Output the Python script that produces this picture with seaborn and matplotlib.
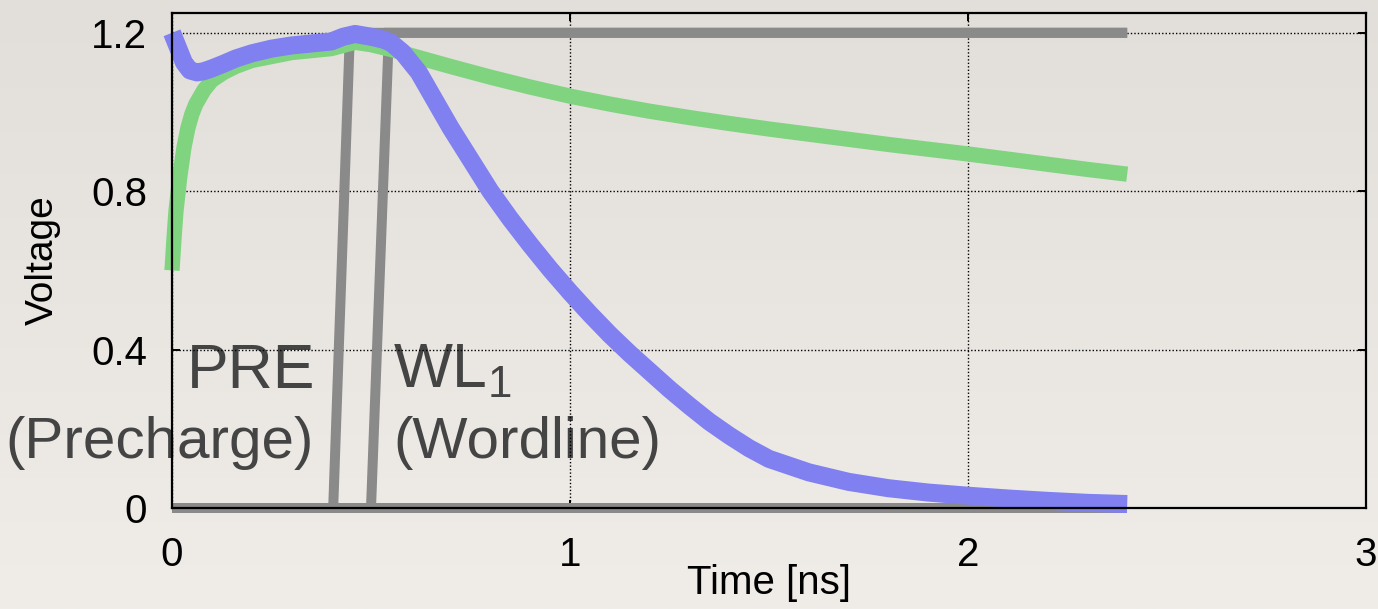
import numpy as np
import pandas as pd
import matplotlib
matplotlib.use("Agg")
import matplotlib.pyplot as plt
import seaborn as sns

# ---- data ----
t_bl = [0.0, 0.005, 0.01, 0.02, 0.03, 0.04, 0.05, 0.06, 0.08, 0.10, 0.13, 0.16, 0.20,
        0.25, 0.30, 0.35, 0.40, 0.43, 0.46, 0.50, 0.55, 0.60, 0.70, 0.80, 0.90, 1.00,
        1.10, 1.20, 1.30, 1.40, 1.50, 1.60, 1.70, 1.80, 1.90, 2.00, 2.10, 2.20, 2.30, 2.40]
v_bl = [0.60, 0.68, 0.75, 0.84, 0.91, 0.96, 0.995, 1.02, 1.055, 1.08, 1.10, 1.115, 1.13,
        1.14, 1.15, 1.155, 1.16, 1.168, 1.176, 1.17, 1.158, 1.143, 1.115, 1.088, 1.063, 1.04,
        1.02, 1.002, 0.986, 0.971, 0.957, 0.944, 0.931, 0.918, 0.906, 0.894, 0.881, 0.868,
        0.855, 0.843]

t_blb = [0.0, 0.01, 0.02, 0.03, 0.045, 0.063, 0.08, 0.10, 0.13, 0.16, 0.20, 0.25, 0.30,
         0.35, 0.40, 0.43, 0.46, 0.50, 0.53, 0.55, 0.58, 0.62, 0.66, 0.70, 0.75, 0.80,
         0.85, 0.90, 0.95, 1.00, 1.05, 1.10, 1.15, 1.20, 1.25, 1.30, 1.35, 1.40, 1.45,
         1.50, 1.60, 1.70, 1.80, 1.90, 2.00, 2.10, 2.20, 2.30, 2.40]
v_blb = [1.20, 1.175, 1.15, 1.125, 1.105, 1.10, 1.103, 1.11, 1.122, 1.135, 1.148, 1.16,
         1.168, 1.173, 1.178, 1.19, 1.197, 1.19, 1.183, 1.175, 1.15, 1.10, 1.03, 0.96,
         0.88, 0.80, 0.73, 0.665, 0.603, 0.545, 0.49, 0.438, 0.39, 0.345, 0.30, 0.258,
         0.218, 0.183, 0.151, 0.124, 0.090, 0.066, 0.050, 0.039, 0.031, 0.024, 0.018,
         0.013, 0.010]

t_pre = [0.0, 0.405, 0.447, 2.40]
v_pre = [0.0, 0.0, 1.20, 1.20]

t_wl1 = [0.0, 0.500, 0.545, 2.40]
v_wl1 = [0.0, 0.0, 1.20, 1.20]

t_wl0 = [0.0, 2.40]
v_wl0 = [0.0, 0.0]

x_ticks = [0, 1, 2, 3]
y_ticks = [0, 0.4, 0.8, 1.2]
y_ticklabels = ["0", "0.4", "0.8", "1.2"]

# ---- style ----
sns.set_theme(style="white")
plt.rcParams["font.family"] = ["Liberation Sans", "DejaVu Sans"]

BG = "#e8e5e0"
W, H = 1378, 609
fig = plt.figure(figsize=(W / 100, H / 100), dpi=100, facecolor=BG)

# subtle paper-like vertical gradient background
top_c = np.array([0xe2, 0xdf, 0xda]) / 255.0
bot_c = np.array([0xf0, 0xed, 0xe9]) / 255.0
frac = np.linspace(0, 1, H)[:, None, None]
grad = np.repeat(top_c * (1 - frac) + bot_c * frac, 8, axis=1)
bg_ax = fig.add_axes([0, 0, 1, 1], zorder=-10)
bg_ax.imshow(grad, aspect="auto", interpolation="bilinear")
bg_ax.axis("off")

ax = fig.add_axes([172 / W, 1 - 508 / H, (1366 - 172) / W, (508 - 13) / H], zorder=1)
ax.patch.set_alpha(0)

GRAY = "#8a8a8a"
for tt, vv in [(t_wl0, v_wl0), (t_pre, v_pre), (t_wl1, v_wl1)]:
    sns.lineplot(x=tt, y=vv, ax=ax, color=GRAY, linewidth=7.2, estimator=None,
                 sort=False, solid_capstyle="butt", solid_joinstyle="miter",
                 clip_on=False, zorder=2)
sns.lineplot(x=t_bl, y=v_bl, ax=ax, color="#80d480", linewidth=11, estimator=None,
             sort=False, solid_capstyle="butt", solid_joinstyle="round",
             clip_on=False, zorder=3)
sns.lineplot(x=t_blb, y=v_blb, ax=ax, color="#8080f0", linewidth=13, estimator=None,
             sort=False, solid_capstyle="butt", solid_joinstyle="round",
             clip_on=False, zorder=4)

ax.set_xlim(0, 3)
ax.set_ylim(0, 1.25)
ax.set_xticks(x_ticks)
ax.set_yticks(y_ticks)
ax.set_yticklabels(y_ticklabels)

ax.set_axisbelow(True)
ax.grid(True, color="black", linestyle=(0, (1, 1.5)), linewidth=1.0)

for s in ax.spines.values():
    s.set_visible(True)
    s.set_color("black")
    s.set_linewidth(1.6)
    s.set_zorder(5)

ax.tick_params(axis="both", which="both", direction="in", length=6, width=1.4,
               top=True, right=True, bottom=True, left=True,
               labelsize=29, colors="black", pad=18)
ax.tick_params(axis="x", pad=20)

ax.set_xlabel("Time [ns]", fontsize=29, labelpad=-7, color="black")
ax.set_ylabel("Voltage", fontsize=28, labelpad=22, color="black")

TXT = "#444444"
ax.text(0.36, 0.304, "PRE", fontsize=45, color=TXT, ha="right", va="baseline", zorder=0.4)
ax.text(0.355, 0.127, "(Precharge)", fontsize=42, color=TXT, ha="right", va="baseline", zorder=0.4)
ax.text(0.556, 0.304, r"WL$_\mathregular{1}$", fontsize=45, color=TXT, ha="left", va="baseline", zorder=0.4)
ax.text(0.556, 0.127, "(Wordline)", fontsize=42, color=TXT, ha="left", va="baseline", zorder=0.4)

fig.savefig("out.png", dpi=100, facecolor=BG)
